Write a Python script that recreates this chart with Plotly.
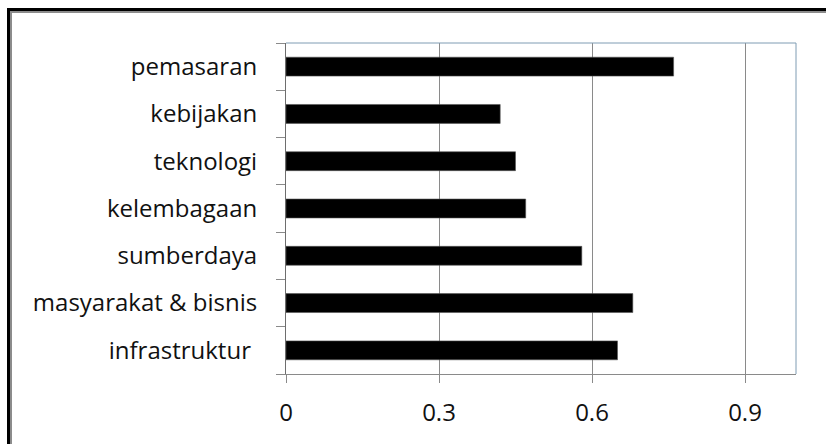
import plotly.graph_objects as go

# Factor scores (top to bottom as displayed)
categories = ["pemasaran", "kebijakan", "teknologi", "kelembagaan",
              "sumberdaya", "masyarakat & bisnis", "infrastruktur\u00a0"]
values = [0.76, 0.42, 0.45, 0.47, 0.58, 0.68, 0.65]
x_ticks = [0, 0.3, 0.6, 0.9]
x_tick_labels = ["0", "0.3", "0.6", "0.9"]

W, H = 826, 444
L, R, T, B = 286, 30, 43, 70
pw, ph = W - L - R, H - T - B

def px_to_paper_x(px):
    return (px - L) / pw

def px_to_paper_y(py):
    return (H - B - py) / ph

FONT = "Open Sans"

fig = go.Figure(go.Bar(
    x=values[::-1],
    y=categories[::-1],
    orientation="h",
    width=0.4,
    marker=dict(color="#000000", line=dict(width=0.6, color="#555555")),
    hoverinfo="x+y",
))

fig.update_layout(
    width=W, height=H,
    margin=dict(l=L, r=R, t=T, b=B, pad=0),
    paper_bgcolor="white",
    plot_bgcolor="white",
    showlegend=False,
    font=dict(family=FONT, size=24, color="#111111"),
    xaxis=dict(
        range=[0, 1.0],
        tickvals=x_ticks,
        ticktext=x_tick_labels,
        showgrid=True, gridcolor="#8a8a8a", gridwidth=1,
        zeroline=False,
        showline=True, linecolor="#8a8a8a", linewidth=1,
        ticks="outside", ticklen=8, tickcolor="#8a8a8a", tickwidth=1,
        ticklabelstandoff=9,
        tickfont=dict(family=FONT, size=24, color="#111111"),
    ),
    yaxis=dict(
        type="category",
        categoryorder="array",
        categoryarray=categories[::-1],
        range=[-0.5, len(categories) - 0.5],
        showgrid=False,
        zeroline=False,
        showline=True, linecolor="#6e6e6e", linewidth=1,
        ticks="outside", tickson="boundaries", ticklen=9,
        tickcolor="#8a8a8a", tickwidth=1,
        ticklabelstandoff=23,
        tickfont=dict(family=FONT, size=24, color="#111111"),
    ),
)

# Plot frame: top and right edges
frame_color = "#7f9cb3"
fig.add_shape(type="line", xref="paper", yref="paper", x0=0, x1=1, y0=1, y1=1,
              line=dict(color=frame_color, width=1))
fig.add_shape(type="line", xref="paper", yref="paper", x0=1, x1=1, y0=0, y1=1,
              line=dict(color=frame_color, width=1))

# Outer border around the chart (black with a grey inner edge)
fig.add_shape(type="rect", xref="paper", yref="paper",
              x0=px_to_paper_x(8.5), x1=px_to_paper_x(900),
              y0=px_to_paper_y(900), y1=px_to_paper_y(9.5),
              line=dict(color="#000000", width=3), fillcolor="rgba(0,0,0,0)")
fig.add_shape(type="rect", xref="paper", yref="paper",
              x0=px_to_paper_x(11), x1=px_to_paper_x(900),
              y0=px_to_paper_y(900), y1=px_to_paper_y(12),
              line=dict(color="#8c8c8c", width=2), fillcolor="rgba(0,0,0,0)")

fig.write_html("out.html")
